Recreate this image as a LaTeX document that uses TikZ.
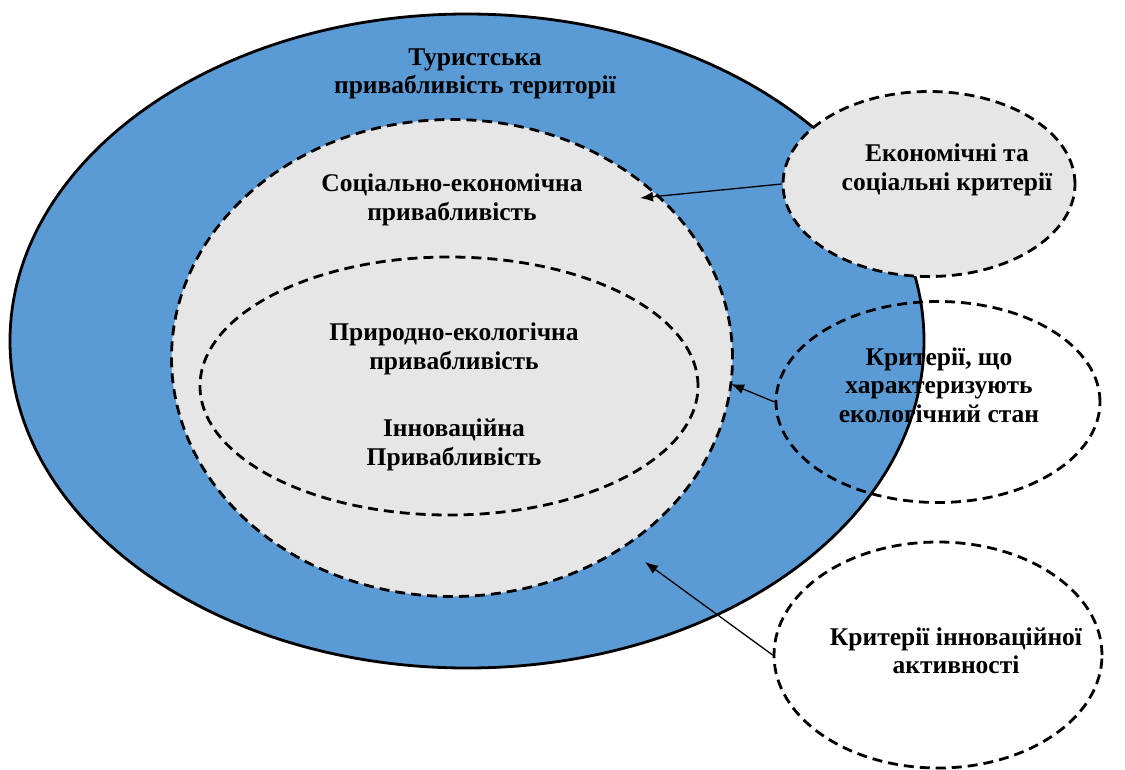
\documentclass[tikz,border=0pt]{standalone}
\usepackage{fontspec}
\setmainfont{Liberation Serif}
\usetikzlibrary{shapes.geometric,arrows.meta}
\definecolor{bigblue}{HTML}{5B9BD5}
\definecolor{lightgr}{HTML}{E6E6E6}
\tikzset{
  x=1pt,y=-1pt,
  oval/.style={ellipse,inner sep=0pt,line width=2.8pt},
  dsh/.style={dash pattern=on 10pt off 6pt},
  lbl/.style={align=center,font=\bfseries\fontsize{25.5}{28.5}\selectfont},
  conn/.style={line width=1.3pt,-{Latex[length=13pt,width=10pt]}}
}
\begin{document}
\begin{tikzpicture}
\useasboundingbox (0,0) rectangle (1125,769);
\node[oval,draw=black,fill=bigblue,minimum width=914pt,minimum height=654pt] (big) at (467,341) {};
\node[oval,draw=black,dsh,fill=lightgr,minimum width=561pt,minimum height=477pt] (mid) at (452,358) {};
\node[oval,draw=black,dsh,minimum width=498pt,minimum height=258pt] (inner) at (449,386) {};
\node[oval,draw=black,dsh,fill=lightgr,minimum width=292pt,minimum height=185pt] (econ) at (929,184) {};
\node[oval,draw=black,dsh,minimum width=324pt,minimum height=201pt] (eco) at (938,402) {};
\node[oval,draw=black,dsh,minimum width=328pt,minimum height=226pt] (inno) at (938,655) {};
\coordinate (t1) at (640,198);
\coordinate (t2) at (731,384);
\coordinate (t3) at (645,562);
\draw[conn] (econ.west) -- (t1);
\draw[conn] (eco.west) -- (t2);
\draw[conn] (inno.west) -- (t3);
\node[lbl] (l1) at (475,74) {Туристська\\привабливість території};
\node[lbl] (l2) at (452,200) {Соціально-економічна\\привабливість};
\node[lbl] (l3) at (454,349) {Природно-екологічна\\привабливість};
\node[lbl] (l4) at (454,445) {Інноваційна\\Привабливість};
\node[lbl] (l5) at (947,170) {Економічні та\\соціальні критерії};
\node[lbl] (l6) at (939,385) {Критерії, що\\характеризують\\екологічний стан};
\node[lbl] (l7) at (956,651) {Критерії інноваційної\\активності};
\end{tikzpicture}
\end{document}
